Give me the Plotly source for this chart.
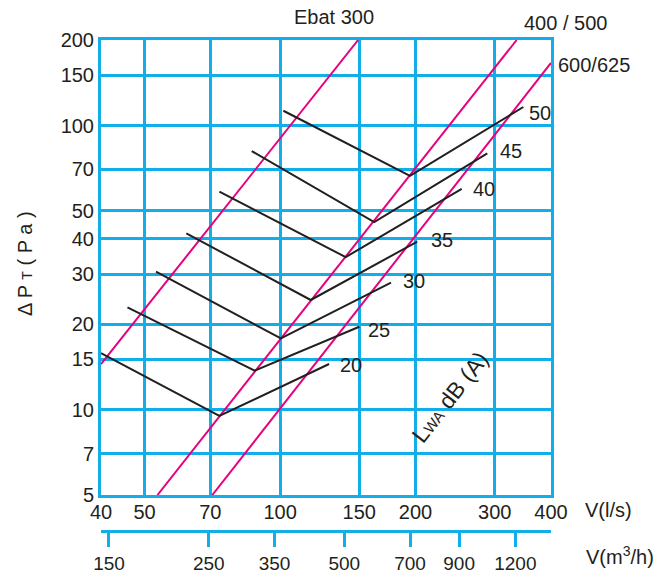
import plotly.graph_objects as go

# ---------------- data ----------------
x_ticks = [40, 50, 70, 100, 150, 200, 300, 400]            # V (l/s)
y_ticks = [5, 7, 10, 15, 20, 30, 40, 50, 70, 100, 150, 200]  # dPt (Pa)
m3h_ticks = [150, 250, 350, 500, 700, 900, 1200]             # V (m3/h)

# magenta system lines (endpoints)
sys_names = ["Ebat 300", "400 / 500", "600/625"]
sys_x = [[40, 149.1], [53.4, 335.6], [70.7, 400]]
sys_y = [[14.45, 200], [5, 200], [5, 166.0]]

# LwA dB(A) curves: start, vertex, end
lwa_labels = ["20", "25", "30", "35", "40", "45", "50"]
start_x = [40, 45.8, 53.0, 61.9, 73.3, 86.5, 101.7]
start_y = [15.8, 22.9, 30.6, 41.7, 58.5, 81.3, 112.7]
vert_x = [73.3, 87.8, 100.4, 117.0, 139.9, 161.9, 194.4]
vert_y = [9.49, 13.7, 17.8, 24.3, 34.4, 45.7, 66.5]
end_x = [128.5, 150.0, 176.4, 201.8, 253.3, 288.7, 347.2]
end_y = [14.46, 19.56, 27.96, 39.0, 59.8, 79.8, 116.2]

# ---------------- style ----------------
BLUE = "#12AEEA"
MAG = "#E6007E"
INK = "#231F20"
FONT = "Liberation Sans, Arial, sans-serif"

L, R, T, B = 101, 120, 40, 44
W, H = 671, 575
ph = H - T - B
pw = W - L - R


def px(x):
    return (x - L) / pw


def py(y):
    return (H - B - y) / ph


fig = go.Figure()

for xs, ys in zip(sys_x, sys_y):
    fig.add_trace(go.Scatter(x=xs, y=ys, mode="lines",
                             line=dict(color=MAG, width=2), hoverinfo="skip"))

for i in range(len(lwa_labels)):
    fig.add_trace(go.Scatter(x=[start_x[i], vert_x[i], end_x[i]],
                             y=[start_y[i], vert_y[i], end_y[i]],
                             mode="lines", line=dict(color=INK, width=2),
                             hoverinfo="skip"))

# secondary flow axis (m3/h) - carrier trace so that the axis is drawn
fig.add_trace(go.Scatter(x=m3h_ticks, y=[None] * len(m3h_ticks),
                         xaxis="x2", yaxis="y", mode="lines",
                         line=dict(color="rgba(0,0,0,0)", width=0),
                         hoverinfo="skip"))

ydom0 = (H - B - 495) / ph

fig.update_layout(
    width=W, height=H,
    margin=dict(l=L, r=R, t=T, b=B),
    paper_bgcolor="white", plot_bgcolor="white",
    showlegend=False,
    font=dict(family=FONT, size=20, color=INK),
    xaxis=dict(type="log", range=[1.60206, 2.60206],
               tickvals=x_ticks, ticktext=[str(v) for v in x_ticks],
               showgrid=True, gridcolor=BLUE, gridwidth=3,
               showline=True, linecolor=BLUE, linewidth=3, mirror=True,
               zeroline=False, ticks="", anchor="y",
               ticklabelstandoff=-3, automargin=False,
               tickfont=dict(size=20, color=INK)),
    yaxis=dict(type="log", range=[0.69897, 2.30103], domain=[ydom0, 1],
               tickvals=y_ticks, ticktext=[str(v) for v in y_ticks],
               showgrid=True, gridcolor=BLUE, gridwidth=3,
               showline=True, linecolor=BLUE, linewidth=3, mirror=True,
               zeroline=False, ticks="", automargin=False,
               tickfont=dict(size=20, color=INK)),
    xaxis2=dict(type="log", overlaying="x", anchor="free", position=0,
                side="bottom", automargin=False,
                range=[2.15836, 3.15836],
                tickvals=m3h_ticks, ticktext=[str(v) for v in m3h_ticks],
                showgrid=False, zeroline=False,
                showline=True, linecolor=BLUE, linewidth=3,
                ticks="outside", ticklen=14, tickwidth=3, tickcolor=BLUE,
                ticklabelstandoff=0,
                tickfont=dict(size=19, color=INK)),
)

ann = []


def add_text(text, x, y, size=20, angle=0):
    ann.append(dict(text=text, x=px(x), y=py(y), xref="paper", yref="paper",
                    showarrow=False, xanchor="center", yanchor="middle",
                    textangle=angle, font=dict(size=size, color=INK, family=FONT)))


add_text("Ebat 300", 333.5, 17.5)
add_text("400 / 500", 565.5, 23.5)
add_text("600/625", 594, 65)

lab_pos = [(351, 365), (379, 329.5), (414, 281), (442, 240),
           (484, 189), (511, 151), (540, 113)]
for t, (lx, ly) in zip(lwa_labels, lab_pos):
    add_text(t, lx, ly)

add_text("V(l/s)", 608, 510)
add_text("V(m<sup>3</sup>/h)", 620, 555)
add_text("Δ P <span style=\"font-size:14px\">T</span> ( P a )", 25, 264, size=20, angle=-90)
add_text("L<span style=\"font-size:15px\">WA</span> dB (A)", 450, 397, size=23, angle=-52)

fig.update_layout(annotations=ann)

fig.write_html("out.html")
